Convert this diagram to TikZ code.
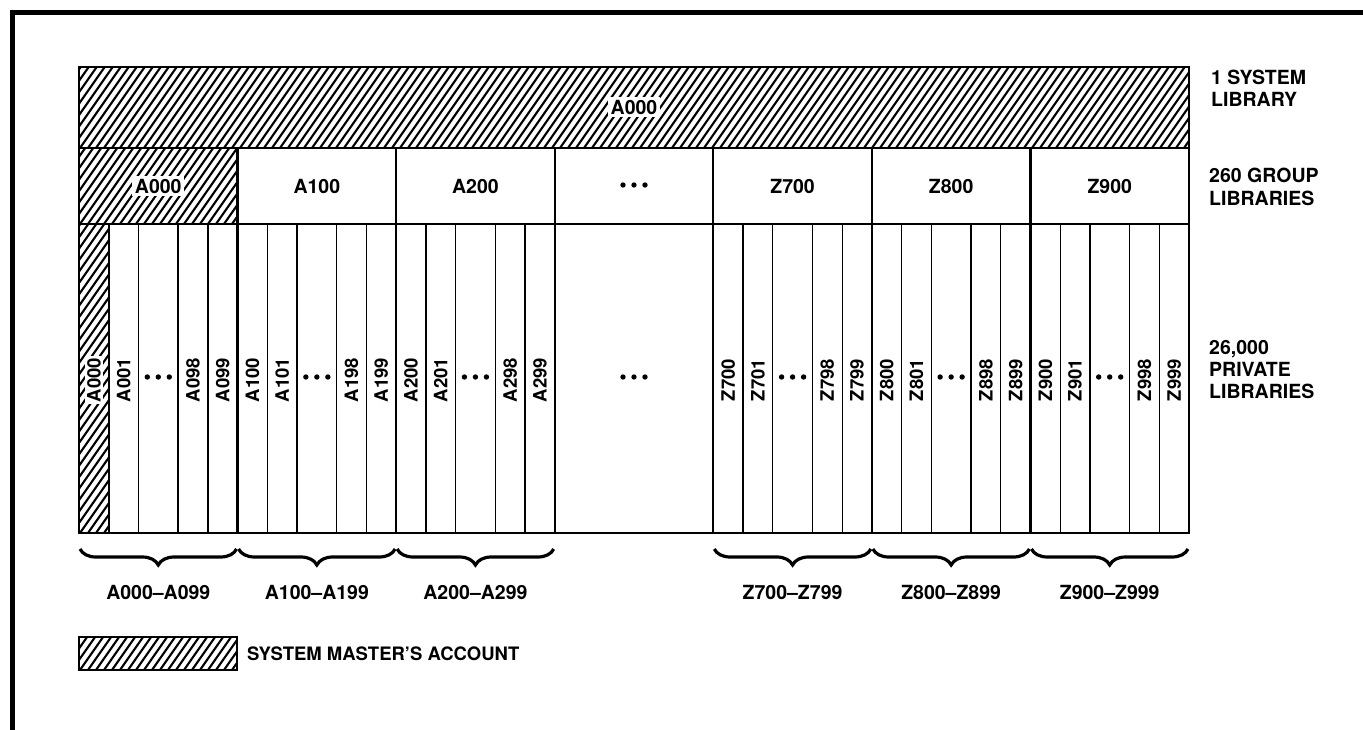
\documentclass[tikz,border=0pt]{standalone}
\usepackage{fontspec}
\setmainfont{TeX Gyre Heros}
\usetikzlibrary{decorations.pathreplacing}
\newcommand\myhatch[4]{%
  \begin{scope}
    \clip (#1,#2) rectangle (#3,#4);
    \foreach \xx in {-320,-312,...,1200}{
      \draw[hatchline] (\xx,#4) -- ({\xx+0.7*(#4-#2)},#2);
    }
  \end{scope}}
\begin{document}
\begin{tikzpicture}[x=1pt,y=-1pt,
  lbl/.style={font=\fontsize{19.5}{22}\selectfont\bfseries, inner sep=0pt},
  vlbl/.style={font=\fontsize{18.5}{22}\selectfont\bfseries, inner sep=0pt, rotate=90},
  innerline/.style={line width=1.4pt},
  outerline/.style={line width=2.2pt},
  hatchline/.style={line width=2.1pt},
  whitebox/.style={fill=white, inner sep=2.5pt},
  bracestyle/.style={decorate, decoration={brace, mirror, amplitude=16pt}, line width=3.2pt},
  dotmark/.style={fill=black}
]
\useasboundingbox (0,0) rectangle (1363,730);
\fill[white] (0,0) rectangle (1363,730);

% outer frame
\draw[line width=5pt, line join=miter] (12,730) -- (12,13) -- (1363,13);

\def\gw{158.571}

% hatched regions
\myhatch{79}{67}{1189}{148}
\myhatch{79}{148}{237.57}{224}
\myhatch{79}{224}{108.8}{533}
\myhatch{79}{637}{237}{670}

% horizontal dividers
\draw[outerline] (79,148) -- (1189,148);
\draw[outerline] (79,224) -- (1189,224);

% group boundaries
\foreach \i in {1,...,6}{
  \draw[outerline] ({79+\i*\gw},148) -- ({79+\i*\gw},533);
}

% private column lines
\foreach \i in {0,1,2,4,5,6}{
  \foreach \f in {0.188,0.375,0.625,0.813}{
    \draw[innerline] ({79+(\i+\f)*\gw},224) -- ({79+(\i+\f)*\gw},533);
  }
}

% outline of table
\draw[outerline] (79,67) rectangle (1189,533);

% system library label
\node[lbl, whitebox] (sys) at (634,107) {A000};

% group labels
\foreach \i/\t in {0/A000,1/A100,2/A200,4/Z700,5/Z800,6/Z900}{
  \ifnum\i=0
    \node[lbl, whitebox] (grp\i) at ({79+(\i+0.5)*\gw},186) {\t};
  \else
    \node[lbl] (grp\i) at ({79+(\i+0.5)*\gw},186) {\t};
  \fi
}
% group dots
\foreach \d in {-11,0,11}{
  \fill[dotmark] ({79+3.5*\gw+\d},185) circle (2.7);
}

% private labels
\foreach \i/\p in {0/A0,1/A1,2/A2,4/Z7,5/Z8,6/Z9}{
  \ifnum\i=0
    \node[vlbl, whitebox, inner sep=2pt] (p\i a) at ({79+(\i+0.094)*\gw},380) {\p00};
  \else
    \node[vlbl] (p\i a) at ({79+(\i+0.094)*\gw},380) {\p00};
  \fi
  \node[vlbl] (p\i b) at ({79+(\i+0.2815)*\gw},380) {\p01};
  \node[vlbl] (p\i c) at ({79+(\i+0.719)*\gw},380) {\p98};
  \node[vlbl] (p\i d) at ({79+(\i+0.9065)*\gw},380) {\p99};
  \foreach \d in {-11,0,11}{
    \fill[dotmark] ({79+(\i+0.5)*\gw+\d},377) circle (2.7);
  }
}
% central dots
\foreach \d in {-11,0,11}{
  \fill[dotmark] ({79+3.5*\gw+\d},377) circle (2.7);
}

% braces and range labels
\foreach \i/\t in {0/A000--A099,1/A100--A199,2/A200--A299,4/Z700--Z799,5/Z800--Z899,6/Z900--Z999}{
  \draw[bracestyle] ({79+\i*\gw+1},549) -- ({79+(\i+1)*\gw-1},549);
  \node[lbl] (r\i) at ({79+(\i+0.5)*\gw},592) {\t};
}

% right-hand labels
\node[lbl, anchor=base west] (s1) at (1211,85) {1 SYSTEM};
\node[lbl, anchor=base west] (s2) at (1211,107) {LIBRARY};
\node[lbl, anchor=base west] (g1) at (1209,183) {260 GROUP};
\node[lbl, anchor=base west] (g2) at (1209,206) {LIBRARIES};
\node[lbl, anchor=base west] (q1) at (1209,354) {26,000};
\node[lbl, anchor=base west] (q2) at (1209,376) {PRIVATE};
\node[lbl, anchor=base west] (q3) at (1209,398) {LIBRARIES};

% legend
\draw[outerline] (79,637) rectangle (237,670);
\node[lbl, anchor=west, font=\fontsize{18.5}{22}\selectfont\bfseries] (leg) at (247,654) {SYSTEM MASTER’S ACCOUNT};
\end{tikzpicture}
\end{document}
